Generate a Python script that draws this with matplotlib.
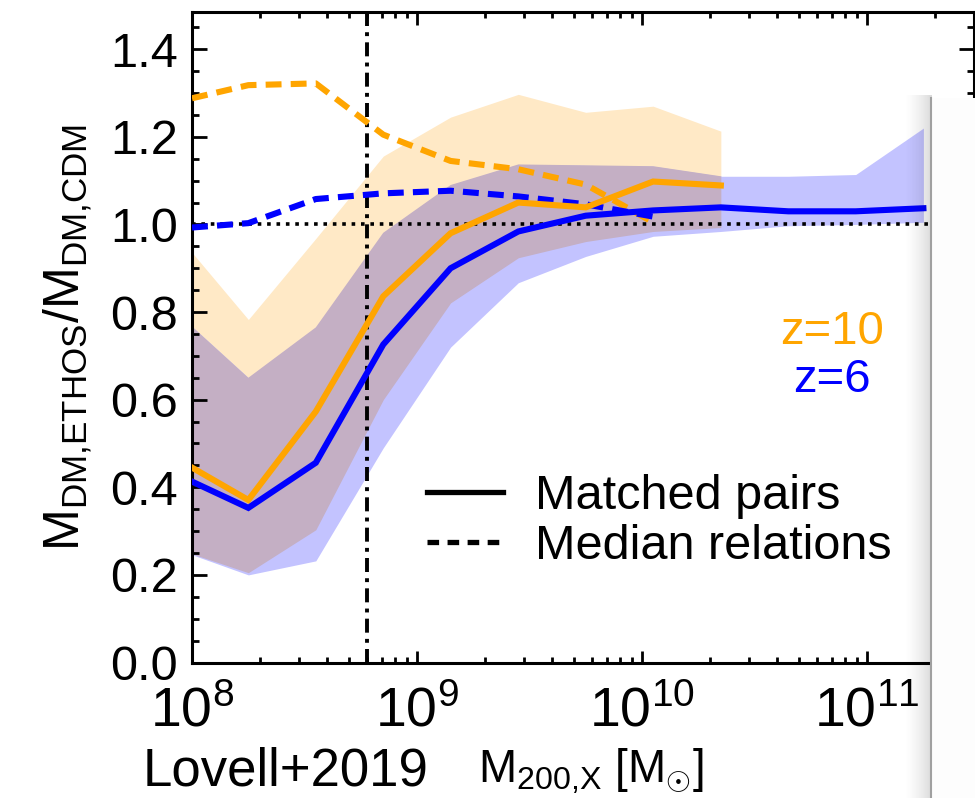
import numpy as np
import matplotlib
matplotlib.use("Agg")
import matplotlib.pyplot as plt
import matplotlib.patches as mpatches
from matplotlib.lines import Line2D
from matplotlib.ticker import LogLocator, MultipleLocator, FormatStrFormatter, NullFormatter

plt.rcParams["font.family"] = ["Liberation Sans", "DejaVu Sans"]
plt.rcParams["mathtext.fontset"] = "custom"
plt.rcParams["mathtext.rm"] = "Liberation Sans"
plt.rcParams["mathtext.it"] = "Liberation Sans:italic"
plt.rcParams["mathtext.sf"] = "Liberation Sans"
plt.rcParams["mathtext.default"] = "rm"

# ── data ──────────────────────────────────────────────────────────────────
mass = [1.0e8, 1.78e8, 3.55e8, 7.08e8, 1.41e9, 2.82e9, 5.62e9,
        1.12e10, 2.24e10, 4.47e10, 8.91e10, 1.78e11]

z6_pairs = [0.413, 0.353, 0.456, 0.726, 0.900, 0.984, 1.020,
            1.032, 1.039, 1.030, 1.030, 1.037]
z6_lo = [0.246, 0.200, 0.232, 0.490, 0.720, 0.867, 0.927,
         0.973, 0.984, 0.997, 1.000, 1.005]
z6_hi = [0.767, 0.650, 0.765, 0.981, 1.090, 1.137, 1.135,
         1.133, 1.110, 1.110, 1.114, 1.220]
z6_median = [0.993, 1.003, 1.058, 1.071, 1.077, 1.064, 1.046, 1.018]

z10_pairs = [0.445, 0.371, 0.573, 0.836, 0.980, 1.050, 1.039, 1.098, 1.089]
z10_lo = [0.248, 0.205, 0.303, 0.600, 0.821, 0.924, 0.961, 0.984, 0.993]
z10_hi = [0.936, 0.783, 0.968, 1.156, 1.245, 1.297, 1.256, 1.270, 1.213]
z10_median = [1.288, 1.318, 1.322, 1.205, 1.145, 1.126, 1.091, 1.005]

m_cut = 6.0e8          # vertical dash-dot line
ratio_ref = 1.0        # horizontal dotted line

# ── colours ───────────────────────────────────────────────────────────────
ORANGE = "#FFA500"
BLUE = "#0000FF"
ORANGE_BAND = "#FFE9C6"
BLUE_BAND = "#C3C3FF"
OVERLAP = "#C4AFC4"

W, H = 975, 798
fig = plt.figure(figsize=(W / 100, H / 100), dpi=100, facecolor="white")

x0, x1 = 192, 974.4
y_top, y_bot = 12, 662.5
ax = fig.add_axes([x0 / W, 1 - y_bot / H, (x1 - x0) / W, (y_bot - y_top) / H])
ax.set_xscale("log")
ax.set_xlim(1e8, 3e11)
ax.set_ylim(0, 1.485)

n10 = len(z10_pairs)
n_med = len(z6_median)

# bands: orange only, blue only, and their overlap (orange band clipped to blue band)
ax.fill_between(mass[:n10], z10_lo, z10_hi, color=ORANGE_BAND, lw=0, zorder=1)
blue_fill = ax.fill_between(mass, z6_lo, z6_hi, color=BLUE_BAND, lw=0, zorder=1.1)
ov = ax.fill_between(mass[:n10], z10_lo, z10_hi, color=OVERLAP, lw=0, zorder=1.2)
clip = mpatches.PathPatch(blue_fill.get_paths()[0], transform=ax.transData)
ov.set_clip_path(clip)

# reference lines
ax.axhline(ratio_ref, color="black", lw=2.6, ls=(0, (1.0, 1.6)), zorder=2)
ax.axvline(m_cut, color="black", lw=2.8, ls=(0, (3.6, 1.6, 1.0, 1.6)), zorder=2)

# curves
lw = 4.4
ax.plot(mass[:n_med], z10_median, color=ORANGE, lw=lw, ls=(0, (2.6, 1.5)), zorder=3)
ax.plot(mass[:n_med], z6_median, color=BLUE, lw=lw, ls=(0, (2.6, 1.5)), zorder=3)
ax.plot(mass[:n10], z10_pairs, color=ORANGE, lw=lw, solid_joinstyle="miter", zorder=4)
ax.plot(mass, z6_pairs, color=BLUE, lw=lw, solid_joinstyle="miter", zorder=4)

# axes styling
for sp in ax.spines.values():
    sp.set_linewidth(2.2)
ax.yaxis.set_major_locator(MultipleLocator(0.2))
ax.yaxis.set_minor_locator(MultipleLocator(0.05))
ax.yaxis.set_major_formatter(FormatStrFormatter("%.1f"))
ax.xaxis.set_major_locator(LogLocator(base=10, numticks=10))
ax.xaxis.set_minor_locator(LogLocator(base=10, subs=np.arange(2, 10), numticks=20))
ax.xaxis.set_minor_formatter(NullFormatter())
ax.tick_params(which="both", direction="in", top=True, right=True, width=2)
ax.tick_params(axis="y", which="major", length=11, labelsize=35, pad=10)
ax.tick_params(axis="y", which="minor", length=5)
ax.tick_params(axis="x", which="major", length=9, labelsize=40, pad=17)
ax.tick_params(axis="x", which="minor", length=4)

# legend
handles = [Line2D([], [], color="black", lw=3.8),
           Line2D([], [], color="black", lw=3.8, ls=(0, (2.2, 1.6)))]
ax.legend(handles, ["Matched pairs", "Median relations"], loc="upper left",
          bbox_to_anchor=(0.30, 0.29), frameon=False, fontsize=35,
          handlelength=1.57, handletextpad=0.66, labelspacing=0.1,
          borderpad=0, borderaxespad=0)

ax.text(0.7515, 0.508, "z=10", color=ORANGE, fontsize=34, transform=ax.transAxes,
        ha="left", va="center")
ax.text(0.768, 0.434, "z=6", color=BLUE, fontsize=34, transform=ax.transAxes,
        ha="left", va="center")

# axis titles
fig.text(68 / W, 1 - 337 / H, r"M$_{\rm DM{,}ETHOS}$/M$_{\rm DM{,}CDM}$",
         rotation=90, fontsize=36, ha="center", va="center")
fig.text(478 / W, 1 - 783 / H, r"M$_{\rm 200{,}X}$ [M$_{\odot}$]",
         fontsize=33, ha="left", va="baseline")
fig.text(143 / W, 1 - 786 / H, "Lovell+2019", fontsize=38, ha="left", va="baseline")

# overlapping window on the right (screenshot artefact)
sh = fig.add_axes([903 / W, 0, 29 / W, 703 / H], zorder=5)
ramp = np.zeros((2, 64, 4))
ramp[..., 3] = np.linspace(0, 0.28, 64) ** 1.5
sh.imshow(ramp, aspect="auto", interpolation="bilinear", extent=(0, 1, 0, 1))
sh.axis("off")
panel = mpatches.Rectangle((932 / W, 0), 1 - 932 / W, 700 / H, transform=fig.transFigure,
                           facecolor="#FDFDFD", edgecolor="none", zorder=10)
fig.add_artist(panel)
fig.add_artist(Line2D([931 / W, 931 / W], [0, 700 / H], transform=fig.transFigure,
                      color="#A0A0A0", lw=1.5, zorder=11))

fig.savefig("out.png", dpi=100, facecolor="white")
